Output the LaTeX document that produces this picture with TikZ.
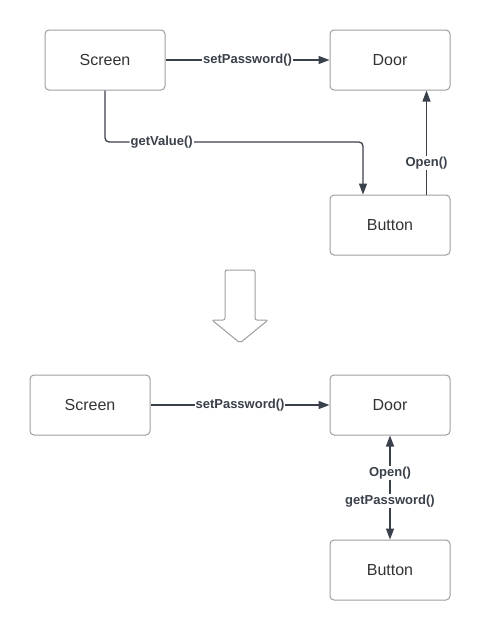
\documentclass[tikz,border=0pt]{standalone}
\usepackage{fontspec}
\setmainfont{Liberation Sans}
\usetikzlibrary{arrows.meta}
\definecolor{edgecol}{HTML}{3A414A}
\definecolor{boxcol}{HTML}{9E9E9E}
\definecolor{txtcol}{HTML}{333333}
\begin{document}
\begin{tikzpicture}[x=1pt,y=-1pt,
    box/.style={draw=boxcol,line width=1pt,rounded corners=4pt,minimum width=120pt,
      minimum height=60pt,text=txtcol,font=\fontsize{16}{19}\selectfont},
    lbl/.style={fill=white,inner sep=1pt,text=edgecol,font=\fontsize{13}{15}\selectfont\bfseries},
    tip/.tip={Triangle[length=11pt,width=8pt]},
    conn/.style={draw=edgecol,line width=1.3pt,-tip}]

      \useasboundingbox (0,0) rectangle (480,630);

      \begin{scope}[every node/.style={box}]
        \node (scr)  at (105,60)  {Screen};
        \node (door) at (390,60)  {Door};
        \node (btn)  at (390,225) {Button};
        \node (scrB)  at (90,405)  {Screen};
        \node (doorB) at (390,405) {Door};
        \node (btnB)  at (390,570) {Button};
      \end{scope}

      \coordinate (gv) at (363,142);

      \begin{scope}[every node/.style={lbl}]
        \draw[conn] (scr) -- node {setPassword()} (door);
        \draw[conn,rounded corners=4pt] (scr.south) |- node[pos=0.61] {getValue()} (gv) -- ([xshift=-27pt]btn.north);
        \draw[conn] ([xshift=-24pt]btn.north east) -- node[pos=0.3] {Open()} ([xshift=-24pt]door.south east);

        \draw[conn] (scrB) -- node {setPassword()} (doorB);
        \draw[conn,tip-tip] (doorB) --
          node[pos=0.36] {Open()} node[pos=0.63] {getPassword()} (btnB);
      \end{scope}

      % big down arrow
      \draw[boxcol,line width=1pt,rounded corners=2pt] (225,320) -- (225,270) -- (255,270) -- (255,320)
        -- (268,320) -- (240,343) -- (212,320) -- cycle;

    \end{tikzpicture}
\end{document}
